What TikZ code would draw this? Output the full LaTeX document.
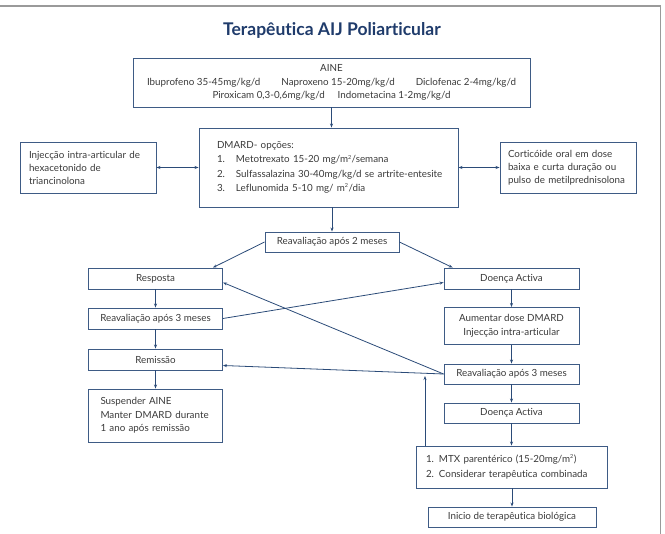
\documentclass[tikz,border=0pt]{standalone}
\usepackage{amsmath}
\usepackage{tikz}
\usepackage{xcolor}
\usepackage{fontspec}
\setmainfont{Lato}[Ligatures={NoCommon}]
\usetikzlibrary{calc,arrows.meta}

\definecolor{boxline}{HTML}{3E5B85}
\definecolor{arrline}{HTML}{2B4B78}
\definecolor{txt}{HTML}{3A3A3A}
\definecolor{titleblue}{HTML}{1F3B6B}
\definecolor{framegrey}{HTML}{9A9A9A}

\newcommand{\sqr}{\textsuperscript{\fontsize{5.5}{5}\selectfont 2}}

\begin{document}
\begin{tikzpicture}[x=1pt,y=-1pt,>={Stealth[length=4pt,width=3pt]}]
        \tikzstyle{every node}=[draw=boxline,rectangle,line width=0.9pt,inner sep=0pt,text=txt,font=\fontsize{9.8}{13.5}\selectfont,minimum width=134pt,minimum height=21pt,align=center]
        \tikzstyle{link}=[draw=arrline,line width=0.8pt,->]
        \useasboundingbox (0,0) rectangle (665,534);
        \draw[framegrey,line width=1.5pt] (0,6) -- (660.5,6) -- (660.5,534);

            \node[draw=none,text=titleblue,font=\fontsize{17.5}{19}\selectfont\bfseries] (T) at (332,30) {Terapêutica AIJ Poliarticular};
            \node[minimum width=397pt,minimum height=49pt] (AINE) at (331.5,82.5) {AINE\\Ibuprofeno 35-45mg/kg/d\hspace{21pt}Naproxeno 15-20mg/kg/d\hspace{21pt}Diclofenac 2-4mg/kg/d\\Piroxicam 0,3-0,6mg/kg/d\hspace{13pt}Indometacina 1-2mg/kg/d};
            \node[minimum height=79pt,text width=223pt,inner xsep=18pt,align=left,font=\fontsize{9.8}{14.3}\selectfont] (DM) at (328.5,167.5) {DMARD- opções:\\\makebox[19pt][l]{1.}Metotrexato 15-20 mg/m\sqr/semana\\\mbox{\makebox[19pt][l]{2.}Sulfassalazina 30-40mg/kg/d se artrite-entesite}\\\makebox[19pt][l]{3.}Leflunomida 5-10 mg/ m\sqr/dia};
            \node[minimum height=51pt,text width=118pt,inner xsep=9pt,align=left,font=\fontsize{9.8}{13}\selectfont] (IL) at (88,167.5) {Injecção intra-articular de\\hexacetonido de\\triancinolona};
            \node[minimum height=51pt,text width=120pt,inner xsep=8pt,align=left,font=\fontsize{9.8}{13}\selectfont] (CO) at (568,167.5) {Corticóide oral em dose\\baixa e curta duração ou\\pulso de metilprednisolona};
            \node[minimum height=20pt] (RV2) at (332,242) {Reavaliação após 2 meses};

            \node (RS) at (155.5,278.5) {Resposta};
            \node (RV3L) at ($(RS)+(0,40)$) {Reavaliação após 3 meses};
            \node (RM) at ($(RV3L)+(0,41)$) {Remissão};
            \node[minimum height=53pt,text width=110pt,inner xsep=12pt,align=left] (SU) at ($(RM)+(0,56)$) {Suspender AINE\\Manter DMARD durante\\1 ano após remissão};

            \node[minimum width=135pt] (DA1) at (511.5,278.5) {Doença Activa};
            \node[minimum width=135pt,minimum height=37pt,font=\fontsize{9.8}{14}\selectfont] (AU) at ($(DA1)+(0,47.5)$) {Aumentar dose DMARD\\Injecção intra-articular};
            \node[minimum width=135pt,minimum height=20pt] (RV3R) at ($(AU)+(0,48)$) {Reavaliação após 3 meses};
            \node[minimum width=135pt,minimum height=20pt] (DA2) at ($(RV3R)+(0,39)$) {Doença Activa};
            \node[minimum width=191pt,minimum height=42pt,text width=171pt,inner xsep=10pt,align=left,font=\fontsize{9.8}{15}\selectfont] (MTX) at ($(DA2)+(0,54)$) {\makebox[13pt][l]{1.}MTX parentérico (15-20mg/m\sqr)\\\makebox[13pt][l]{2.}Considerar terapêutica combinada};
            \node[minimum width=168pt,minimum height=20pt] (BIO) at ($(MTX)+(0.5,50)$) {Inicio de terapêutica biológica};

            \coordinate (J) at (425,376);

            \draw[link] (AINE.south) -- (AINE.south |- DM.north);
            \draw[link,<->] (IL) -- (DM);
            \draw[link,<->] (DM) -- (CO);
            \draw[link] (DM.south -| RV2.north) -- (RV2.north);
            \draw[link] (RV2.west) -- ([xshift=-10pt]RS.north east);
            \draw[link] (RV2.east) -- ([xshift=9pt]DA1.north west);

            \draw[link] (RS) -- (RV3L);
            \draw[link] (RV3L) -- (RM);
            \draw[link] (RM) -- (SU);
            \draw[link] (RV3L.east) -- ([yshift=-4pt]DA1.west);

            \draw[link] (DA1) -- (AU);
            \draw[link] (AU) -- (RV3R);
            \draw[link] (RV3R) -- (DA2);
            \draw[link] (DA2) -- (MTX);
            \draw[link] (MTX.south -| BIO.north) -- (BIO.north);
            \draw[link] (RV3R.west) -- ([yshift=-4pt]RS.east);
            \draw[link] (RV3R.west) -- ([yshift=-6pt]RM.east);
            \draw[link] (MTX.north -| J) -- (J);

        \end{tikzpicture}
\end{document}
